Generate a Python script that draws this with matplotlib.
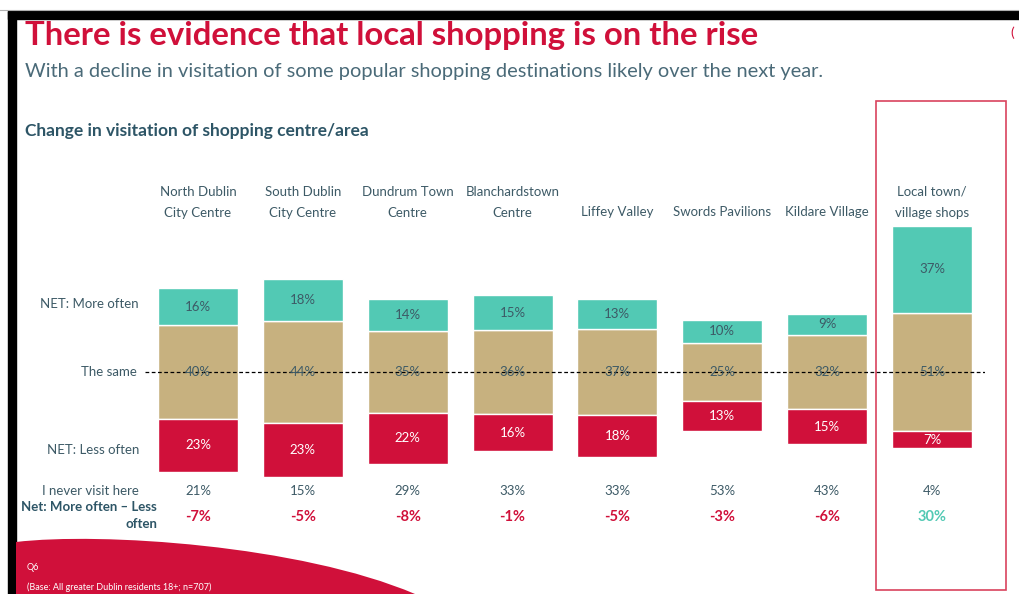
import numpy as np
import matplotlib.pyplot as plt
from matplotlib.patches import Rectangle, PathPatch
from matplotlib.path import Path

plt.rcParams['font.family'] = ['Lato', 'DejaVu Sans']

# data
categories = ['North Dublin\nCity Centre', 'South Dublin\nCity Centre', 'Dundrum Town\nCentre',
              'Blanchardstown\nCentre', 'Liffey Valley', 'Swords Pavilions', 'Kildare Village',
              'Local town/\nvillage shops']
more_often = [16, 18, 14, 15, 13, 10, 9, 37]
the_same = [40, 44, 35, 36, 37, 25, 32, 51]
less_often = [23, 23, 22, 16, 18, 13, 15, 7]
never_visit = [21, 15, 29, 33, 33, 53, 43, 4]
net_change = [-7, -5, -8, -1, -5, -3, -6, 30]

TEAL = '#52c9b4'
TAN = '#c7b17f'
RED = '#d0103a'
INK = '#3d5a66'
W, H = 1019, 594
PX = 2.33  # pixels per percentage point

fig = plt.figure(figsize=(W / 100, H / 100), dpi=100)

# background layer in pixel coordinates for the slide decorations
bg = fig.add_axes([0, 0, 1, 1], zorder=0)
bg.set_xlim(0, W)
bg.set_ylim(H, 0)
bg.axis('off')

bg.add_patch(Rectangle((8, 11), W - 8, 8, color='black'))
bg.add_patch(Rectangle((8, 11), 8, H - 11, color='black'))
bg.plot([0, W], [10, 10], color='#b0b0b0', lw=0.8)

wave = Path([(16, 542), (100, 532), (300, 545), (415, 594), (16, 594), (16, 542)],
            [Path.MOVETO, Path.CURVE4, Path.CURVE4, Path.CURVE4, Path.LINETO, Path.CLOSEPOLY])
bg.add_patch(PathPatch(wave, facecolor=RED, edgecolor='none'))
bg.text(27, 567, 'Q6', color='white', fontsize=6.5, va='center')
bg.text(27, 587, '(Base: All greater Dublin residents 18+; n=707)', color='white',
        fontsize=6.5, va='center')

bg.add_patch(Rectangle((876, 101), 130, 489, fill=False, edgecolor='#d9435e', lw=1.2))
bg.text(1010, 33, '(', color=RED, fontsize=10, va='center')

bg.text(25, 36, 'There is evidence that local shopping is on the rise', color=RED,
        fontsize=23.7, fontweight='bold', va='center')
bg.text(25, 71, 'With a decline in visitation of some popular shopping destinations likely over the next year.',
        color='#4a6a78', fontsize=14.4, va='center')
bg.text(25, 131, 'Change in visitation of shopping centre/area', color='#2d5566',
        fontsize=12.5, fontweight='bold', va='center')

# row labels
bg.text(139, 304, 'NET: More often', color=INK, fontsize=9.5, ha='right', va='center')
bg.text(137, 372, 'The same', color=INK, fontsize=9.5, ha='right', va='center')
bg.text(139, 450, 'NET: Less often', color=INK, fontsize=9.5, ha='right', va='center')
bg.text(139, 491, 'I never visit here', color=INK, fontsize=9.5, ha='right', va='center')
bg.text(157, 507, 'Net: More often \u2013 Less', color='#2d5566', fontsize=9.5,
        fontweight='bold', ha='right', va='center')
bg.text(157, 524, 'often', color='#2d5566', fontsize=9.5, fontweight='bold',
        ha='right', va='center')

# bar chart, centred on the middle of "the same"
ax = fig.add_axes([145 / W, 1 - 500 / H, 840 / W, 300 / H], zorder=1)
ax.patch.set_alpha(0)
ax.set_xlim(-0.505, 7.506)
ax.set_ylim(-(500 - 372) / PX, (372 - 200) / PX)
ax.axis('off')

x = np.arange(len(categories))
same = np.array(the_same)
more = np.array(more_often)
less = np.array(less_often)
bw = 0.763

ax.bar(x, same, bottom=-same / 2, width=bw, color=TAN, edgecolor='white', lw=1)
ax.bar(x, more, bottom=same / 2, width=bw, color=TEAL, edgecolor='white', lw=1)
ax.bar(x, less, bottom=-same / 2 - less, width=bw, color=RED, edgecolor='white', lw=1)
ax.axhline(0, color='black', lw=0.9, ls=(0, (3, 2)), zorder=3)

for i in x:
    ax.text(i, same[i] / 2 + more[i] / 2, f'{more[i]}%', ha='center', va='center',
            color=INK, fontsize=9.5, zorder=4)
    ax.text(i, 0, f'{same[i]}%', ha='center', va='center', color=INK, fontsize=9.5, zorder=4)
    ax.text(i, -same[i] / 2 - less[i] / 2, f'{less[i]}%', ha='center', va='center',
            color='white', fontsize=9.5, zorder=4)

# labels above and below the bars, at the bar centres
for i, cat in enumerate(categories):
    xf = 145 + (i + 0.505) / 8.011 * 840
    lines = cat.split('\n')
    if len(lines) == 2:
        bg.text(xf, 192, lines[0], color=INK, fontsize=9.5, ha='center', va='center')
        bg.text(xf, 213, lines[1], color=INK, fontsize=9.5, ha='center', va='center')
    else:
        bg.text(xf, 212, lines[0], color=INK, fontsize=9.5, ha='center', va='center')
    bg.text(xf, 491, f'{never_visit[i]}%', color=INK, fontsize=9.5, ha='center', va='center')
    bg.text(xf, 517, f'{net_change[i]}%', color=TEAL if net_change[i] > 0 else RED,
            fontsize=10.5, fontweight='bold', ha='center', va='center')

fig.savefig('out.png', dpi=100)
